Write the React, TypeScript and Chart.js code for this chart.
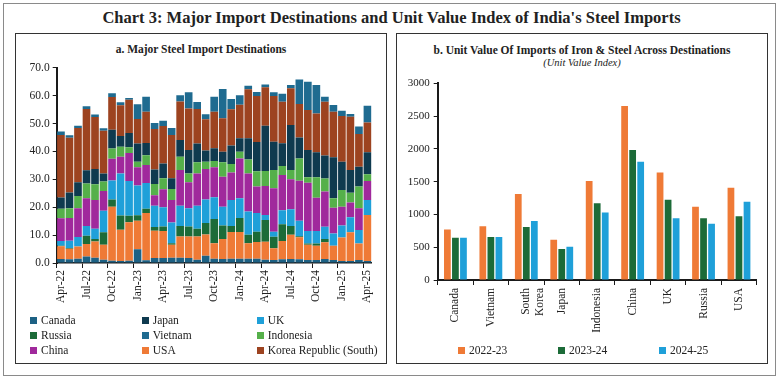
import React, { useEffect, useRef } from 'react';
import { Chart, registerables } from 'chart.js';

Chart.register(...registerables);

const SERIF = "'Liberation Serif', 'DejaVu Serif', serif";

// ---- Panel a: Major Steel Import Destinations (stacked) ----
const months = [
  'Apr-22', 'May-22', 'Jun-22', 'Jul-22', 'Aug-22', 'Sep-22', 'Oct-22', 'Nov-22', 'Dec-22',
  'Jan-23', 'Feb-23', 'Mar-23', 'Apr-23', 'May-23', 'Jun-23', 'Jul-23', 'Aug-23', 'Sep-23',
  'Oct-23', 'Nov-23', 'Dec-23', 'Jan-24', 'Feb-24', 'Mar-24', 'Apr-24', 'May-24', 'Jun-24',
  'Jul-24', 'Aug-24', 'Sep-24', 'Oct-24', 'Nov-24', 'Dec-24', 'Jan-25', 'Feb-25', 'Mar-25',
  'Apr-25',
];

const canada = [1.4, 1.3, 1.5, 2.3, 1.9, 1.2, 0.8, 0.7, 0.8, 4.9, 1.0, 1.8, 1.8, 1.9, 1.9, 1.8, 1.2, 2.6, 1.5, 1.4, 1.5, 1.5, 1.5, 1.5, 1.2, 1.1, 1.3, 1.4, 1.3, 1.1, 1.1, 1.4, 1.1, 0.7, 0.7, 1.1, 0.7];
const usa = [4.6, 3.8, 4.4, 4.5, 5.8, 5.3, 19.4, 11.2, 13.8, 10.2, 16.9, 9.8, 9.7, 4.6, 7.6, 7.7, 8.3, 7.6, 5.6, 7.2, 9.6, 9.6, 5.6, 6.0, 6.4, 4.2, 6.6, 8.7, 7.9, 5.4, 5.1, 6.0, 5.1, 8.4, 10.3, 5.9, 16.5];
const russia = [0.2, 0.3, 0.0, 3.0, 0.9, 4.5, 2.6, 5.1, 2.3, 2.0, 1.5, 1.3, 1.6, 0.6, 3.8, 3.6, 2.8, 4.1, 8.7, 4.8, 2.2, 5.0, 3.0, 3.7, 7.8, 4.1, 6.0, 3.2, 0.4, 0.5, 0.8, 1.2, 0.0, 0.0, 0.0, 0.0, 0.0];
const uk = [1.7, 2.6, 3.4, 3.5, 3.7, 7.7, 6.8, 15.1, 12.5, 10.7, 9.3, 7.6, 6.9, 7.4, 7.2, 6.5, 8.2, 8.5, 7.8, 6.8, 9.3, 7.1, 8.4, 6.7, 1.8, 1.8, 5.0, 6.0, 5.5, 4.5, 4.5, 4.4, 4.4, 4.3, 5.4, 4.8, 5.4];
const china = [8.1, 8.1, 10.3, 9.9, 10.3, 7.1, 7.8, 6.0, 10.0, 6.5, 6.4, 3.8, 6.4, 8.1, 12.8, 9.3, 11.6, 10.9, 10.7, 10.7, 9.8, 14.3, 13.6, 9.5, 10.4, 15.6, 12.6, 10.7, 14.4, 17.3, 11.9, 12.6, 9.2, 6.8, 5.3, 7.8, 6.8];
const indonesia = [3.4, 3.5, 4.4, 5.3, 5.6, 3.4, 3.6, 3.6, 2.1, 2.0, 3.5, 4.0, 4.0, 3.9, 4.8, 3.2, 4.0, 2.6, 2.3, 5.2, 3.1, 2.4, 5.0, 5.5, 5.4, 6.5, 3.3, 3.3, 8.0, 1.9, 7.3, 4.7, 3.4, 6.0, 3.5, 7.8, 2.4];
const japan = [4.1, 5.7, 4.9, 4.7, 5.5, 2.9, 6.8, 3.8, 5.1, 6.5, 4.4, 5.2, 5.3, 3.9, 6.0, 8.4, 6.7, 4.0, 4.5, 3.8, 6.6, 4.8, 7.6, 10.5, 16.2, 10.2, 8.1, 16.2, 7.5, 9.8, 9.0, 8.2, 14.7, 10.1, 8.1, 7.1, 7.9];
const korea = [22.4, 19.6, 19.5, 22.0, 18.6, 15.3, 11.7, 11.0, 11.9, 8.8, 11.2, 14.5, 13.4, 15.5, 13.8, 14.9, 12.4, 11.2, 13.1, 12.0, 13.0, 12.0, 17.6, 16.5, 13.8, 16.4, 14.9, 13.1, 12.0, 14.3, 13.9, 19.3, 16.3, 16.4, 19.1, 11.7, 10.7];
const vietnam = [1.2, 0.9, 0.8, 1.0, 0.9, 0.9, 1.3, 1.1, 0.6, 5.3, 5.4, 2.2, 1.9, 2.5, 2.2, 5.8, 2.5, 1.8, 5.4, 10.5, 3.7, 3.4, 1.2, 1.4, 1.0, 1.3, 2.9, 1.2, 8.8, 10.2, 10.2, 1.8, 2.4, 1.9, 1.0, 2.7, 6.0];

const leftTicks = [0, 10, 20, 30, 40, 50, 60, 70];

// stacking order, bottom to top
const stackSeries = [
  { label: 'Canada', data: canada, color: '#1d6184' },
  { label: 'USA', data: usa, color: '#ef7a36' },
  { label: 'Russia', data: russia, color: '#1c6b38' },
  { label: 'UK', data: uk, color: '#1fa0d9' },
  { label: 'China', data: china, color: '#a0299c' },
  { label: 'Indonesia', data: indonesia, color: '#55b04a' },
  { label: 'Japan', data: japan, color: '#0f3a4f' },
  { label: 'Korea Republic (South)', data: korea, color: '#9d4320' },
  { label: 'Vietnam', data: vietnam, color: '#1f6b90' },
];

// legend layout (rows)
const leftLegendRows = [
  ['Canada', 'Japan', 'UK'],
  ['Russia', 'Vietnam', 'Indonesia'],
  ['China', 'USA', 'Korea Republic (South)'],
];

// ---- Panel b: Unit Value Index ----
const destinations: (string | string[])[] = ['Canada', 'Vietnam', ['South', 'Korea'], 'Japan', 'Indonesia', 'China', 'UK', 'Russia', 'USA'];
const uv2223 = [772, 818, 1311, 615, 1509, 2652, 1641, 1118, 1407];
const uv2324 = [645, 655, 808, 473, 1169, 1982, 1224, 940, 971];
const uv2425 = [645, 655, 899, 508, 1031, 1803, 940, 859, 1194];
const rightTicks = [0, 500, 1000, 1500, 2000, 2500, 3000];

const uvSeries = [
  { label: '2022-23', data: uv2223, color: '#ef7a36' },
  { label: '2023-24', data: uv2324, color: '#1c6b38' },
  { label: '2024-25', data: uv2425, color: '#1fa0d9' },
];

const TEXT = '#222';
const AXIS = '#1a1a1a';

function colorOf(label: string) {
  const s = stackSeries.find((x) => x.label === label);
  return s ? s.color : '#000';
}

export default function App() {
  const refA = useRef<HTMLCanvasElement>(null);
  const refB = useRef<HTMLCanvasElement>(null);

  useEffect(() => {
    const tickFont = { family: SERIF, size: 11.5 };

    const chartA = new Chart(refA.current!, {
      type: 'bar',
      data: {
        labels: months,
        datasets: stackSeries.map((s) => ({
          label: s.label,
          data: s.data,
          backgroundColor: s.color,
          borderWidth: 0,
          barPercentage: 0.9,
          categoryPercentage: 1,
        })),
      },
      options: {
        animation: false,
        responsive: false,
        maintainAspectRatio: false,
        layout: { padding: { top: 12.7, right: 13.3, left: 0, bottom: 0 } },
        plugins: { legend: { display: false }, tooltip: { enabled: false }, title: { display: false } },
        scales: {
          x: {
            stacked: true,
            offset: true,
            afterFit: (s: any) => { s.height = 52; },
            grid: {
              offset: true,
              drawOnChartArea: false,
              drawTicks: true,
              tickLength: 5,
              color: (ctx: any) => (ctx.index % 3 === 0 ? AXIS : 'rgba(0,0,0,0)'),
            },
            border: { color: AXIS, width: 1.5 },
            ticks: {
              autoSkip: false,
              maxRotation: 90,
              minRotation: 90,
              padding: 2,
              color: TEXT,
              font: tickFont,
              callback: (_v: any, i: number) => (i % 3 === 0 ? months[i] : ''),
            },
          },
          y: {
            stacked: true,
            min: leftTicks[0],
            max: leftTicks[leftTicks.length - 1],
            afterFit: (s: any) => { s.width = 41.7; },
            afterBuildTicks: (s: any) => { s.ticks = leftTicks.map((v) => ({ value: v })); },
            grid: { drawOnChartArea: false, drawTicks: true, tickLength: 4, color: AXIS },
            border: { color: AXIS, width: 2 },
            ticks: {
              padding: 3,
              color: TEXT,
              font: tickFont,
              callback: (v: any) => Number(v).toFixed(1),
            },
          },
        },
      },
    });

    const chartB = new Chart(refB.current!, {
      type: 'bar',
      data: {
        labels: destinations as any,
        datasets: uvSeries.map((s) => ({
          label: s.label,
          data: s.data,
          backgroundColor: s.color,
          borderWidth: 0,
          barPercentage: 0.84,
          categoryPercentage: 0.68,
        })),
      },
      options: {
        animation: false,
        responsive: false,
        maintainAspectRatio: false,
        layout: { padding: { top: 13.3, right: 9.3, left: 0, bottom: 0 } },
        plugins: { legend: { display: false }, tooltip: { enabled: false }, title: { display: false } },
        scales: {
          x: {
            offset: true,
            afterFit: (s: any) => { s.height = 60; },
            grid: { offset: true, drawOnChartArea: false, drawTicks: true, tickLength: 5, color: AXIS },
            border: { color: AXIS, width: 2 },
            ticks: {
              autoSkip: false,
              maxRotation: 90,
              minRotation: 90,
              padding: 3,
              color: TEXT,
              font: tickFont,
            },
          },
          y: {
            min: rightTicks[0],
            max: rightTicks[rightTicks.length - 1],
            afterFit: (s: any) => { s.width = 41.7; },
            afterBuildTicks: (s: any) => { s.ticks = rightTicks.map((v) => ({ value: v })); },
            grid: { drawOnChartArea: false, drawTicks: true, tickLength: 4, color: AXIS },
            border: { color: AXIS, width: 2 },
            ticks: {
              padding: 4,
              color: TEXT,
              font: { family: SERIF, size: 11 },
              callback: (v: any) => String(v),
            },
          },
        },
      },
    });

    return () => {
      chartA.destroy();
      chartB.destroy();
    };
  }, []);

  const sw = (c: string) => (
    <span style={{ display: 'inline-block', width: 7, height: 7, background: c, marginRight: 4, verticalAlign: 'middle', position: 'relative', top: -1 }} />
  );

  const legendColX = [30, 141.7, 256.7];
  const legendRowY = [320, 335, 350];
  const uvLegendX = [458, 558, 659];

  return (
    <div style={{ position: 'fixed', left: 0, top: 0, width: 783, height: 381, background: '#fff', fontFamily: SERIF, color: TEXT }}>
      {/* outer frame */}
      <div style={{ position: 'absolute', left: 3, top: 3, width: 773, height: 373, border: '1.5px solid #8a8a8a', boxSizing: 'border-box' }} />
      <div style={{ position: 'absolute', left: 0, top: 7, width: 783, textAlign: 'center', fontSize: 16.5, fontWeight: 'bold', lineHeight: '22px' }}>
        Chart 3: Major Import Destinations and Unit Value Index of India's Steel Imports
      </div>

      {/* panel a */}
      <div style={{ position: 'absolute', left: 15, top: 33, width: 372, height: 331, border: '1px solid #333', boxSizing: 'border-box' }} />
      <div style={{ position: 'absolute', left: 15, top: 42, width: 372, textAlign: 'center', fontSize: 11.5, fontWeight: 'bold', lineHeight: '14px' }}>
        a. Major Steel Import Destinations
      </div>
      <div style={{ position: 'absolute', left: 15, top: 55, width: 370, height: 260 }}>
        <canvas ref={refA} width={370} height={260} style={{ width: 370, height: 260, display: 'block' }} />
      </div>
      {leftLegendRows.map((row, r) =>
        row.map((name, c) => (
          <div key={name} style={{ position: 'absolute', left: legendColX[c], top: legendRowY[r] - 7, fontSize: 11.5, lineHeight: '14px', whiteSpace: 'nowrap' }}>
            {sw(colorOf(name))}
            {name}
          </div>
        ))
      )}

      {/* panel b */}
      <div style={{ position: 'absolute', left: 396, top: 33, width: 372, height: 331, border: '1px solid #333', boxSizing: 'border-box' }} />
      <div style={{ position: 'absolute', left: 396, top: 43, width: 372, textAlign: 'center', fontSize: 11.5, fontWeight: 'bold', lineHeight: '14px' }}>
        b. Unit Value Of Imports of Iron &amp; Steel Across Destinations
      </div>
      <div style={{ position: 'absolute', left: 396, top: 56, width: 372, textAlign: 'center', fontSize: 10.5, fontStyle: 'italic', lineHeight: '13px' }}>
        (Unit Value Index)
      </div>
      <div style={{ position: 'absolute', left: 396, top: 70, width: 370, height: 270 }}>
        <canvas ref={refB} width={370} height={270} style={{ width: 370, height: 270, display: 'block' }} />
      </div>
      {uvSeries.map((s, i) => (
        <div key={s.label} style={{ position: 'absolute', left: uvLegendX[i], top: 343, fontSize: 11.5, lineHeight: '14px', whiteSpace: 'nowrap' }}>
          {sw(s.color)}
          {s.label}
        </div>
      ))}
    </div>
  );
}
